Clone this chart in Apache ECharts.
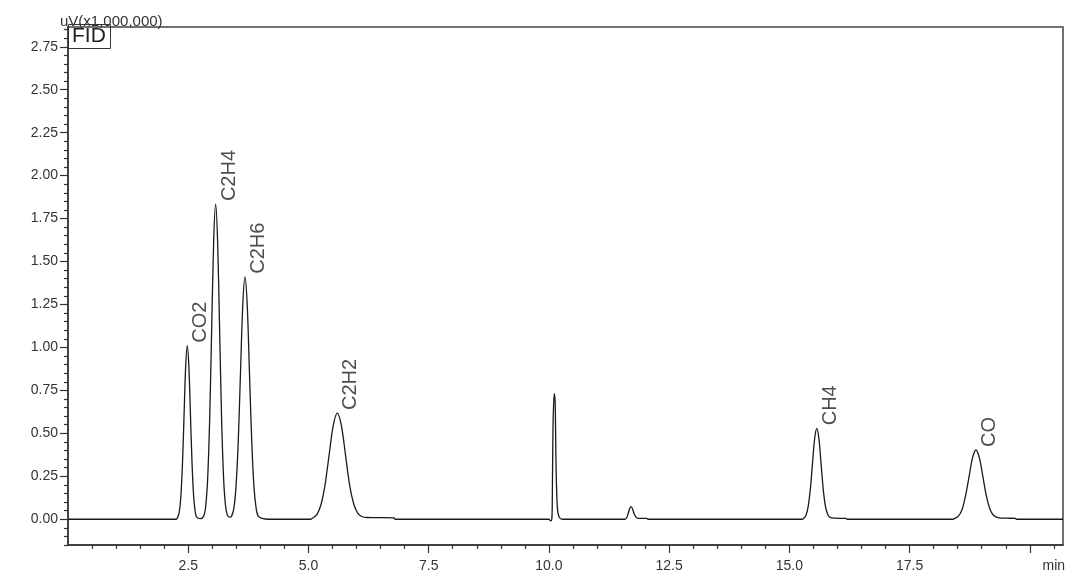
<!DOCTYPE html>
<html>
<head>
<meta charset="utf-8">
<script src="https://cdn.jsdelivr.net/npm/echarts@6/dist/echarts.min.js"></script>
<style>html,body{margin:0;padding:0;background:#fff;}#chart{width:1080px;height:586px;}</style>
</head>
<body>
<div id="chart"></div>
<script>
// ---- data (time in min, signal in uV x1,000,000) ----
var segStart = [[0, 0], [2.25, 0]];
var peakCO2 = [[2.28,0.011],[2.315,0.044],[2.348,0.137],[2.381,0.328],[2.414,0.613],[2.447,0.891],[2.48,1.01],[2.513,0.891],[2.546,0.613],[2.579,0.328],[2.612,0.137],[2.645,0.044],[2.678,0.011],[2.76,0.004]];
var peakC2H4 = [[2.824,0.02],[2.865,0.08],[2.906,0.248],[2.947,0.595],[2.988,1.112],[3.029,1.618],[3.07,1.834],[3.111,1.618],[3.152,1.112],[3.193,0.595],[3.234,0.248],[3.275,0.08],[3.316,0.022],[3.37,0.012]];
var peakC2H6 = [[3.401,0.018],[3.448,0.062],[3.494,0.191],[3.541,0.458],[3.587,0.856],[3.634,1.245],[3.68,1.411],[3.727,1.245],[3.773,0.856],[3.82,0.458],[3.866,0.191],[3.913,0.062],[3.96,0.016],[4.06,0.003],[4.16,0],[5.05,0]];
var peakC2H2 = [[5.09,0.007],[5.175,0.027],[5.26,0.084],[5.345,0.2],[5.43,0.375],[5.515,0.545],[5.6,0.618],[5.685,0.545],[5.77,0.375],[5.855,0.2],[5.94,0.09],[6.025,0.035],[6.11,0.016],[6.22,0.01],[6.78,0.008],[6.8,0],[10.0,0]];
var peakSpike = [[10.035,-0.01],[10.06,0],[10.07,0.1],[10.085,0.53],[10.11,0.731],[10.13,0.68],[10.15,0.29],[10.175,0.07],[10.21,0.015],[10.28,0],[11.58,0]];
var peakSmall = [[11.62,0.01],[11.65,0.035],[11.68,0.063],[11.71,0.073],[11.74,0.06],[11.77,0.033],[11.81,0.012],[11.85,0.005],[12.04,0.005],[12.06,0],[15.26,0]];
var peakCH4 = [[15.3,0.006],[15.345,0.023],[15.39,0.072],[15.435,0.172],[15.48,0.321],[15.525,0.467],[15.57,0.529],[15.615,0.467],[15.66,0.321],[15.705,0.172],[15.75,0.075],[15.795,0.03],[15.84,0.012],[15.93,0.006],[16.18,0.005],[16.2,0],[18.4,0]];
var peakCO = [[18.44,0.005],[18.515,0.018],[18.59,0.055],[18.66,0.131],[18.735,0.245],[18.807,0.356],[18.88,0.403],[18.953,0.356],[19.026,0.245],[19.1,0.131],[19.17,0.06],[19.24,0.025],[19.34,0.01],[19.5,0.006],[19.7,0.005],[19.72,0],[20.69,0]];

var peakNames = ['CO2', 'C2H4', 'C2H6', 'C2H2', 'CH4', 'CO'];
var peakTimes = [2.48, 3.07, 3.68, 5.60, 15.57, 18.88];
var peakHeights = [1.01, 1.834, 1.411, 0.618, 0.529, 0.403];

var yTickLabels = [0, 0.25, 0.5, 0.75, 1.0, 1.25, 1.5, 1.75, 2.0, 2.25, 2.5, 2.75];
var xTickLabels = [2.5, 5.0, 7.5, 10.0, 12.5, 15.0, 17.5, 20.5];
var xMajorTicks = [2.5, 5.0, 7.5, 10.0, 12.5, 15.0, 17.5, 20.0];

// minor ticks
var yMinorTicks = [];
for (var i = -3; i <= 57; i++) { if (i % 5 !== 0) yMinorTicks.push(Math.round(i * 5) / 100); }
var xMinorTicks = [];
for (var j = 1; j <= 41; j++) { if (j % 5 !== 0) xMinorTicks.push(j / 2); }

var trace = [].concat(segStart, peakCO2, peakC2H4, peakC2H6, peakC2H2, peakSpike, peakSmall, peakCH4, peakCO);
var labelPoints = peakNames.map(function (n, k) { return { name: n, value: [peakTimes[k], peakHeights[k]] }; });

var FONT = "'Liberation Sans', Arial, sans-serif";
var AX = '#333';
var chart = echarts.init(document.getElementById('chart'), null, { renderer: 'canvas' });
chart.setOption({
  animation: false,
  backgroundColor: '#fff',
  textStyle: { fontFamily: FONT },
  title: {
    text: 'FID', left: 68, top: 24,
    padding: [2, 5, 2, 4],
    borderColor: '#333', borderWidth: 1,
    textStyle: { fontSize: 21, fontWeight: 'normal', color: '#222', fontFamily: FONT }
  },
  grid: { left: 68, right: 17, top: 27, bottom: 41, containLabel: false, outerBoundsMode: 'none',
          show: true, borderColor: '#444', borderWidth: 1.5, backgroundColor: 'transparent' },
  xAxis: [{
    type: 'value', min: 0, max: 20.69,
    axisLine: { show: true, onZero: false, lineStyle: { color: AX, width: 1.5 } },
    axisTick: { show: true, customValues: xMinorTicks, length: 4, lineStyle: { color: AX, width: 1.2 } },
    axisLabel: { show: true, customValues: xTickLabels, margin: 14, fontSize: 14, color: '#333', fontFamily: FONT,
      formatter: function (v) { return v > 20.2 ? 'min' : v.toFixed(1); } },
    splitLine: { show: false }
  }, {
    type: 'value', min: 0, max: 20.69, position: 'bottom',
    axisLine: { show: false, onZero: false },
    axisTick: { show: true, customValues: xMajorTicks, length: 8, lineStyle: { color: AX, width: 1.2 } },
    axisLabel: { show: false },
    splitLine: { show: false }
  }],
  yAxis: [{
    type: 'value', min: -0.15, max: 2.865,
    name: 'uV(x1,000,000)', nameLocation: 'end', nameGap: 0,
    nameTextStyle: { fontSize: 15, color: '#333', align: 'left', verticalAlign: 'bottom', padding: [0, 0, -2, -8], fontFamily: FONT },
    axisLine: { show: true, onZero: false, lineStyle: { color: AX, width: 1.5 } },
    axisTick: { show: true, customValues: yTickLabels, length: 8, lineStyle: { color: AX, width: 1.2 } },
    axisLabel: { show: true, customValues: yTickLabels, margin: 10, fontSize: 14, color: '#333', fontFamily: FONT,
      formatter: function (v) { return v.toFixed(2); } },
    splitLine: { show: false }
  }, {
    type: 'value', min: -0.15, max: 2.865, position: 'left',
    axisLine: { show: false, onZero: false },
    axisTick: { show: true, customValues: yMinorTicks, length: 4, lineStyle: { color: AX, width: 1.2 } },
    axisLabel: { show: false },
    splitLine: { show: false }
  }],
  series: [{
    type: 'line', data: trace, showSymbol: false, symbol: 'none',
    smooth: 0.3,
    lineStyle: { color: '#1a1a1a', width: 1.3 },
    clip: true, z: 3
  }, {
    type: 'scatter', data: labelPoints, symbolSize: 0.1,
    itemStyle: { color: 'transparent' },
    label: {
      show: true, formatter: '{b}', position: [13.7, -3], rotate: 90,
      align: 'left', verticalAlign: 'middle',
      fontSize: 20, color: '#222', fontFamily: FONT
    },
    z: 4
  }]
});
</script>
</body>
</html>
